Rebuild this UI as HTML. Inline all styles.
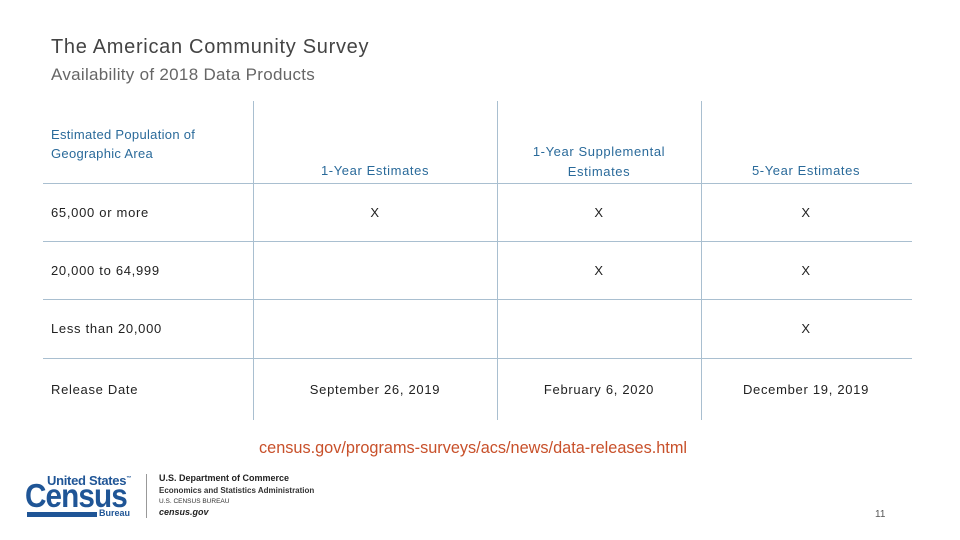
<!DOCTYPE html>
<html><head><meta charset="utf-8"><style>
body{margin:0;width:960px;height:540px;background:#fff;font-family:"Liberation Sans",sans-serif;position:relative;overflow:hidden}
.a{position:absolute;white-space:nowrap}
.h{color:#2a6a9a;font-size:13px;letter-spacing:0.6px}
.c{color:#222;font-size:13px;letter-spacing:0.7px}
.ctr{transform:translateX(-50%);text-align:center}
.hl{position:absolute;left:43px;width:869px;height:1px;background:#a9bfd0}
.vl{position:absolute;top:101px;height:319px;width:1px;background:#a9bfd0}
</style></head><body>
<div class="a" style="left:51px;top:36px;font-size:20px;color:#444;letter-spacing:0.7px">The American Community Survey</div>
<div class="a" style="left:51px;top:65px;font-size:17px;color:#666;letter-spacing:0.3px">Availability of 2018 Data Products</div>
<div>
<div class="vl" style="left:253px"></div>
<div class="vl" style="left:497px"></div>
<div class="vl" style="left:701px"></div>
<div class="hl" style="top:183px"></div>
<div class="hl" style="top:241px"></div>
<div class="hl" style="top:299px"></div>
<div class="hl" style="top:358px"></div>
<div class="a h" style="left:51px;top:125px;line-height:19px;letter-spacing:0.3px">Estimated Population of<br>Geographic Area</div>
<div class="a h ctr" style="left:375px;top:163px">1-Year Estimates</div>
<div class="a h ctr" style="left:599px;top:142px;line-height:20px">1-Year Supplemental<br>Estimates</div>
<div class="a h ctr" style="left:806px;top:163px">5-Year Estimates</div>
<div class="a c" style="left:51px;top:205px">65,000 or more</div>
<div class="a c ctr" style="left:375px;top:205px">X</div>
<div class="a c ctr" style="left:599px;top:205px">X</div>
<div class="a c ctr" style="left:806px;top:205px">X</div>
<div class="a c" style="left:51px;top:263px">20,000 to 64,999</div>
<div class="a c ctr" style="left:599px;top:263px">X</div>
<div class="a c ctr" style="left:806px;top:263px">X</div>
<div class="a c" style="left:51px;top:321px">Less than 20,000</div>
<div class="a c ctr" style="left:806px;top:321px">X</div>
<div class="a c" style="left:51px;top:382px">Release Date</div>
<div class="a c ctr" style="left:375px;top:382px">September 26, 2019</div>
<div class="a c ctr" style="left:599px;top:382px">February 6, 2020</div>
<div class="a c ctr" style="left:806px;top:382px">December 19, 2019</div>
</div>
<div class="a" style="left:259px;top:439px;font-size:16.3px;color:#c8502a">census.gov/programs-surveys/acs/news/data-releases.html</div>
<div>
<div class="a" style="left:47px;top:473px;font-size:13px;font-weight:bold;color:#1f5596;letter-spacing:-0.3px">United States<sup style="font-size:5px">™</sup></div>
<div class="a" style="left:25px;top:477px;font-size:33px;font-weight:bold;color:#1f5596;letter-spacing:-1px;transform:scaleX(0.9);transform-origin:left">Census</div>
<div class="a" style="left:27px;top:512px;width:70px;height:5px;background:#1f5596"></div>
<div class="a" style="left:99px;top:508px;font-size:9px;font-weight:bold;color:#1f5596">Bureau</div>
<div class="a" style="left:146px;top:474px;width:1px;height:44px;background:#999"></div>
<div class="a" style="left:159px;top:473px;font-size:9px;font-weight:bold;color:#222">U.S. Department of Commerce</div>
<div class="a" style="left:159px;top:486px;font-size:8px;font-weight:bold;color:#333">Economics and Statistics Administration</div>
<div class="a" style="left:159px;top:498px;font-size:6.5px;color:#333">U.S. CENSUS BUREAU</div>
<div class="a" style="left:159px;top:507px;font-size:9px;font-weight:bold;font-style:italic;color:#222">census.gov</div>
</div>
<div class="a" style="left:875px;top:509px;font-size:10px;color:#555">11</div>
</body></html>
